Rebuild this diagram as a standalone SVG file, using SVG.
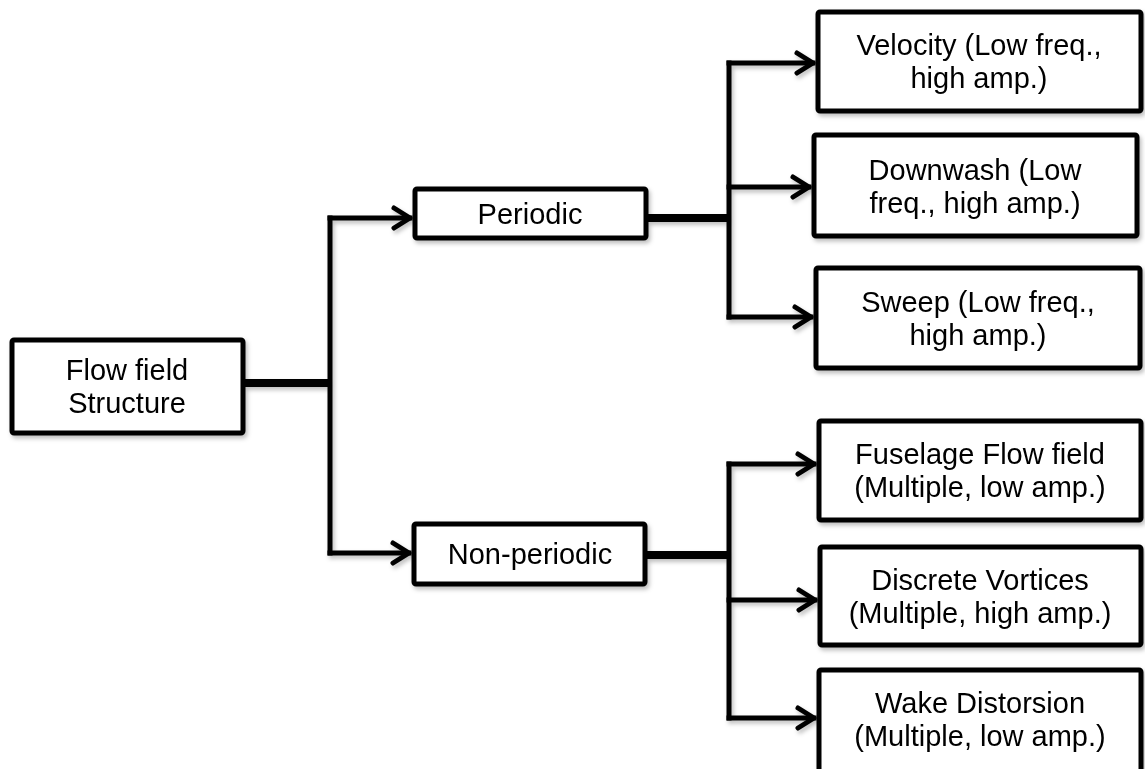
<svg xmlns="http://www.w3.org/2000/svg" width="1145" height="769" viewBox="0 0 1145 769">
<style>
.box{fill:#fff;stroke:#000;stroke-width:5;}
.t{font-family:"Liberation Sans",Arial,sans-serif;font-size:29px;fill:#000;text-anchor:middle;}
.ln{fill:none;stroke:#000;stroke-width:5;stroke-linecap:square;}
.thick{fill:none;stroke:#000;stroke-width:8;}
</style>
<defs>
<filter id="sh" x="-10%" y="-10%" width="130%" height="130%">
<feDropShadow dx="2" dy="3" stdDeviation="2" flood-color="#000" flood-opacity="0.25"/>
</filter>
<marker id="arr" viewBox="0 0 26 28" refX="21" refY="14" markerWidth="26" markerHeight="28" markerUnits="userSpaceOnUse" orient="auto">
<path d="M5,4 L21,14 L5,24" fill="none" stroke="#000" stroke-width="5" stroke-linecap="round" stroke-linejoin="round"/>
</marker>
</defs>
<g id="connectors" filter="url(#sh)">
<path class="thick" d="M245,383 H330"/>
<path class="ln" d="M330,218 V553"/>
<path class="ln" d="M330,218 H410" marker-end="url(#arr)"/>
<path class="ln" d="M330,553 H409" marker-end="url(#arr)"/>
<path class="thick" d="M648,218 H729"/>
<path class="ln" d="M729,63 V317"/>
<path class="ln" d="M729,63 H813" marker-end="url(#arr)"/>
<path class="ln" d="M729,187 H809" marker-end="url(#arr)"/>
<path class="ln" d="M729,317 H811" marker-end="url(#arr)"/>
<path class="thick" d="M647,555 H729"/>
<path class="ln" d="M729,464 V718"/>
<path class="ln" d="M729,464 H814" marker-end="url(#arr)"/>
<path class="ln" d="M729,600 H815" marker-end="url(#arr)"/>
<path class="ln" d="M729,718 H814" marker-end="url(#arr)"/>
</g>
<g id="root" filter="url(#sh)">
<rect class="box" x="12" y="340" width="231" height="93" rx="2"/>
<text class="t" x="127" y="380">Flow field</text>
<text class="t" x="127" y="413">Structure</text>
</g>
<g id="periodic" filter="url(#sh)">
<rect class="box" x="415" y="189" width="231" height="49" rx="2"/>
<text class="t" x="530" y="224">Periodic</text>
</g>
<g id="nonperiodic" filter="url(#sh)">
<rect class="box" x="414" y="524" width="231" height="60" rx="2"/>
<text class="t" x="530" y="564">Non-periodic</text>
</g>
<g id="velocity" filter="url(#sh)">
<rect class="box" x="818" y="12" width="323" height="99" rx="2"/>
<text class="t" x="979" y="55">Velocity (Low freq.,</text>
<text class="t" x="979" y="88">high amp.)</text>
</g>
<g id="downwash" filter="url(#sh)">
<rect class="box" x="814" y="135" width="323" height="101" rx="2"/>
<text class="t" x="975" y="180">Downwash (Low</text>
<text class="t" x="975" y="213">freq., high amp.)</text>
</g>
<g id="sweep" filter="url(#sh)">
<rect class="box" x="816" y="268" width="324" height="100" rx="2"/>
<text class="t" x="978" y="312">Sweep (Low freq.,</text>
<text class="t" x="978" y="345">high amp.)</text>
</g>
<g id="fuselage" filter="url(#sh)">
<rect class="box" x="819" y="421" width="322" height="99" rx="2"/>
<text class="t" x="980" y="464">Fuselage Flow field</text>
<text class="t" x="980" y="497">(Multiple, low amp.)</text>
</g>
<g id="discrete" filter="url(#sh)">
<rect class="box" x="820" y="547" width="321" height="98" rx="2"/>
<text class="t" x="980" y="590">Discrete Vortices</text>
<text class="t" x="980" y="623">(Multiple, high amp.)</text>
</g>
<g id="wake" filter="url(#sh)">
<rect class="box" x="819" y="670" width="322" height="110" rx="2"/>
<text class="t" x="980" y="713">Wake Distorsion</text>
<text class="t" x="980" y="746">(Multiple, low amp.)</text>
</g>
</svg>
